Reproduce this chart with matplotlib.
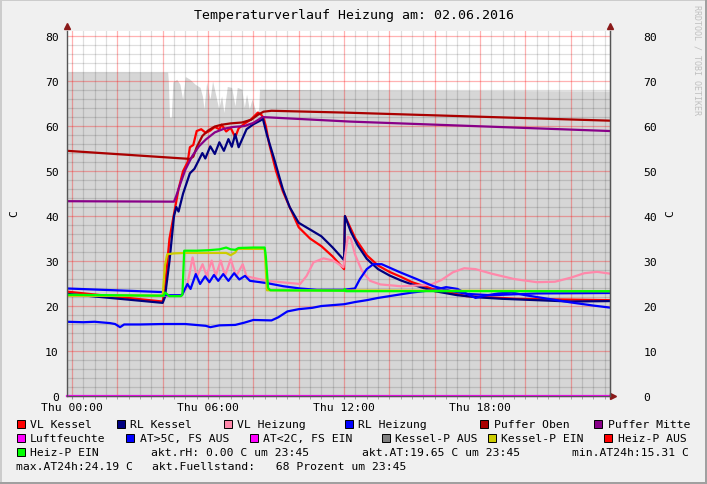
import matplotlib.pyplot as plt
from matplotlib.patches import Rectangle

plt.rcParams['font.family'] = 'DejaVu Sans Mono'

# Zeitachse in Stunden ab Thu 00:00 (02.06.2016)
fuell_t = [-0.22, 4.22, 4.25, 4.3, 4.38, 4.45, 4.62, 4.76, 4.88, 5.0, 5.2, 5.43, 5.65, 5.76,
           5.82, 5.94, 6.09, 6.2, 6.35, 6.47, 6.6, 6.7, 6.85, 7.04, 7.19, 7.29, 7.49, 7.6,
           7.7, 7.82, 7.94, 8.07, 8.17, 8.24, 8.27, 12.0, 23.73]
fuell_v = [72.0, 72.0, 70.0, 62.0, 62.0, 69.8, 70.4, 69.3, 66.0, 71.0, 70.4, 69.3, 68.6, 66.5,
           63.8, 69.8, 66.0, 70.0, 66.7, 63.8, 66.7, 63.0, 68.8, 68.6, 64.5, 68.6, 68.2, 64.2,
           67.1, 63.8, 66.0, 63.8, 62.7, 64.0, 68.2, 68.0, 67.8]

vlk_t = [-0.22, 4.0, 4.1, 4.3, 4.5, 4.7, 4.9, 5.1, 5.2, 5.35, 5.5, 5.7, 5.9, 6.1, 6.3, 6.5,
         6.6, 6.8, 7.0, 7.2, 7.35, 7.6, 7.9, 8.2, 8.35, 8.45, 8.55, 8.7, 9.0, 9.3, 9.6, 10.0,
         10.5, 11.0, 11.5, 12.0, 12.04, 12.5, 13.0, 13.5, 14.0, 14.5, 15.0, 15.9, 17.4, 18.9,
         19.6, 23.73]
vlk_v = [23.2, 21.0, 24.0, 35.0, 40.5, 46.0, 50.0, 52.0, 55.3, 55.8, 58.9, 59.3, 58.5, 59.0,
         59.8, 59.3, 60.3, 58.8, 59.6, 57.5, 59.5, 60.5, 61.5, 63.0, 62.5, 61.8, 60.0, 56.0,
         50.0, 45.5, 42.0, 37.5, 35.0, 33.3, 31.0, 28.2, 40.0, 35.0, 31.3, 29.0, 27.6, 26.5,
         25.3, 23.8, 22.2, 21.8, 21.6, 21.3]

rlk_t = [-0.22, 4.0, 4.1, 4.3, 4.5, 4.6, 4.7, 4.9, 5.2, 5.4, 5.6, 5.75, 5.88, 6.1, 6.3, 6.5,
         6.7, 6.9, 7.05, 7.2, 7.35, 7.7, 8.0, 8.3, 8.42, 8.6, 8.9, 9.3, 9.6, 10.0, 10.5, 11.0,
         11.5, 12.0, 12.04, 12.3, 12.6, 13.0, 13.5, 14.0, 14.5, 15.0, 15.5, 16.0, 17.0, 18.0,
         19.0, 20.0, 21.0, 22.0, 23.73]
rlk_v = [22.7, 20.7, 22.0, 30.0, 40.0, 42.0, 41.0, 45.0, 49.5, 50.5, 52.5, 54.0, 52.8, 55.5,
         53.8, 56.4, 54.5, 57.1, 55.4, 58.2, 55.3, 59.3, 60.4, 61.2, 61.6, 58.0, 53.0, 46.0,
         42.0, 38.5, 37.0, 35.5, 33.0, 30.2, 40.0, 36.5, 33.5, 30.5, 28.2, 26.8, 25.7, 24.8,
         24.0, 23.3, 22.4, 21.9, 21.6, 21.4, 21.2, 21.0, 21.1]

vlh_t = [-0.22, 4.8, 5.06, 5.32, 5.5, 5.76, 5.94, 6.16, 6.34, 6.56, 6.75, 7.0, 7.24, 7.53,
         7.7, 8.59, 10.06, 10.35, 10.65, 11.09, 11.53, 11.97, 12.1, 12.17, 12.3, 12.48, 12.79,
         13.15, 13.6, 14.5, 15.8, 16.3, 16.8, 17.3, 17.8, 18.5, 19.5, 20.5, 21.3, 22.0, 22.6,
         23.16, 23.73]
vlh_v = [22.3, 22.3, 24.0, 30.8, 26.4, 29.3, 26.7, 30.1, 26.7, 30.1, 26.7, 30.4, 26.6, 29.3,
         26.6, 25.6, 24.9, 26.7, 29.7, 30.6, 30.1, 28.6, 33.0, 35.4, 35.0, 31.5, 27.8, 25.6,
         24.8, 24.4, 24.7, 25.8, 27.5, 28.4, 28.2, 27.2, 26.0, 25.3, 25.4, 26.3, 27.3, 27.6,
         27.2]

rlh_t = [-0.22, 4.0, 4.1, 4.85, 5.09, 5.23, 5.46, 5.65, 5.87, 6.06, 6.26, 6.45, 6.67, 6.9,
         7.15, 7.38, 7.63, 7.85, 8.59, 9.32, 10.06, 10.8, 11.95, 12.48, 12.7, 13.0, 13.29,
         13.66, 14.47, 15.2, 15.94, 16.67, 17.41, 18.5, 19.5, 20.5, 23.73]
rlh_v = [23.9, 23.1, 22.4, 22.4, 24.9, 23.8, 27.1, 24.9, 26.6, 25.3, 26.9, 25.6, 27.1, 25.6,
         27.3, 25.9, 26.7, 25.6, 25.1, 24.4, 23.9, 23.6, 23.6, 23.9, 26.0, 28.2, 29.3, 29.3,
         27.5, 26.0, 24.4, 23.4, 22.7, 22.4, 22.6, 22.8, 22.9]

pob_t = [-0.22, 5.2, 5.35, 5.5, 5.75, 6.0, 6.3, 6.6, 7.0, 7.5, 7.9, 8.2, 8.45, 8.8, 12.0, 23.73]
pob_v = [54.5, 52.7, 53.2, 55.3, 57.8, 59.0, 59.9, 60.3, 60.6, 60.8, 61.4, 62.5, 63.2, 63.4,
         63.0, 61.2]

pmi_t = [-0.22, 4.5, 4.6, 4.8, 5.0, 5.3, 5.6, 5.9, 6.3, 6.7, 7.1, 7.6, 8.0, 8.4, 12.26, 23.73]
pmi_v = [43.3, 43.2, 44.5, 47.5, 50.3, 53.3, 55.5, 57.0, 58.6, 59.4, 59.8, 60.0, 60.7, 62.0,
         61.0, 58.9]

luft_t = [-0.22, 23.73]
luft_v = [0.0, 0.0]

at_t = [-0.22, 0.5, 1.0, 1.68, 1.9, 2.12, 2.3, 3.0, 4.0, 5.0, 5.9, 6.1, 6.5, 7.2, 7.6, 8.0,
        8.8, 9.1, 9.5, 10.0, 10.6, 11.0, 11.5, 12.0, 12.5, 13.0, 13.5, 14.0, 14.5, 15.0,
        15.5, 16.0, 16.5, 17.0, 17.5, 17.8, 18.2, 18.8, 19.4, 20.0, 21.0, 22.0, 23.0, 23.73]
at_v = [16.5, 16.4, 16.5, 16.2, 16.0, 15.3, 15.9, 15.9, 16.0, 16.0, 15.6, 15.3, 15.7, 15.8,
        16.3, 16.9, 16.8, 17.5, 18.8, 19.3, 19.6, 20.0, 20.2, 20.4, 20.9, 21.3, 21.8, 22.2,
        22.6, 23.0, 23.3, 23.6, 24.2, 23.8, 22.5, 21.8, 22.3, 22.8, 23.0, 22.4, 21.6, 20.8,
        20.1, 19.65]

kpe_t = [-0.22, 4.0, 4.1, 4.2, 4.5, 5.0, 6.0, 6.8, 7.0, 7.2, 7.3, 8.5, 8.6, 23.73]
kpe_v = [22.3, 22.3, 29.0, 31.5, 31.7, 31.8, 31.8, 31.8, 31.3, 31.9, 32.7, 32.7, 23.5, 23.3]

hpe_t = [-0.22, 4.0, 4.05, 4.1, 4.2, 4.3, 4.8, 4.87, 4.95, 5.5, 6.0, 6.5, 6.8, 7.0, 7.2,
         7.35, 8.0, 8.5, 8.55, 8.65, 8.75, 12.0, 12.03, 12.08, 23.73]
hpe_v = [22.5, 22.3, 22.3, 23.0, 22.6, 22.2, 22.2, 22.5, 32.3, 32.3, 32.4, 32.6, 33.0, 32.6,
         32.5, 32.9, 33.0, 33.0, 31.0, 24.0, 23.5, 23.4, 23.8, 23.3, 23.3]

x_labels = ['Thu 00:00', 'Thu 06:00', 'Thu 12:00', 'Thu 18:00']
x_label_pos = [0, 6, 12, 18]

W, H = 707, 485
fig = plt.figure(figsize=(W / 100, H / 100), dpi=100, facecolor='#f0f0f0')

ax = fig.add_axes([67 / W, 1 - 397 / H, (610 - 67) / W, (397 - 31.7) / H])
ax.set_facecolor('white')
ax.set_xlim(-0.22, 23.73)
ax.set_ylim(0, 81.2)

# Fuellstand als Flaeche
ax.fill_between(fuell_t, 0, fuell_v, color='#d6d6d6', lw=0, zorder=0.2)

# Raster
for i in range(-1, 48):
    x = i * 0.5
    if x < -0.22 or x > 23.73:
        continue
    if i % 4 == 0:
        ax.axvline(x, color='#ff0000', alpha=0.3, lw=0.9, zorder=1)
    else:
        ax.axvline(x, color='#000000', alpha=0.13, lw=0.9, zorder=1)
for j in range(0, 41):
    y = j * 2
    if j % 5 == 0:
        ax.axhline(y, color='#ff0000', alpha=0.3, lw=0.9, zorder=1)
    else:
        ax.axhline(y, color='#000000', alpha=0.13, lw=0.9, zorder=1)

lw = 1.6
ax.plot(vlk_t, vlk_v, color='#ff0000', lw=lw, zorder=2)
ax.plot(rlk_t, rlk_v, color='#000080', lw=lw, zorder=2)
ax.plot(vlh_t, vlh_v, color='#ff88aa', lw=lw, zorder=2)
ax.plot(rlh_t, rlh_v, color='#0000ff', lw=lw, zorder=2)
ax.plot(pob_t, pob_v, color='#aa0000', lw=lw, zorder=2)
ax.plot(pmi_t, pmi_v, color='#880088', lw=lw, zorder=2)
ax.plot(luft_t, luft_v, color='#ff00ff', lw=lw, zorder=2, clip_on=False)
ax.plot(at_t, at_v, color='#0000ff', lw=lw, zorder=2)
ax.plot(kpe_t, kpe_v, color='#cccc00', lw=lw, zorder=2)
ax.plot(hpe_t, hpe_v, color='#00ff00', lw=lw, zorder=2)

for s in ['top']:
    ax.spines[s].set_visible(False)
for s in ['left', 'right', 'bottom']:
    ax.spines[s].set_color('#555555')
    ax.spines[s].set_linewidth(1.0)
    ax.spines[s].set_zorder(3)

ax.set_xticks(x_label_pos)
ax.set_xticklabels(x_labels)
ax.set_xticks([i * 0.5 for i in range(0, 48)], minor=True)
ax.tick_params(axis='x', which='both', length=2, color='#999999', labelsize=8.2, pad=2)
ax.set_yticks(range(0, 81, 10))
ax.tick_params(axis='y', length=0, labelsize=8.2, pad=6)

ax2 = ax.twinx()
ax2.set_ylim(0, 81.2)
ax2.set_yticks(range(0, 81, 10))
ax2.tick_params(axis='y', length=0, labelsize=8.2, pad=24)
for s in ['top', 'left', 'bottom']:
    ax2.spines[s].set_visible(False)
ax2.spines['right'].set_color('#555555')

# Pfeile an den Achsen
ax.plot([0], [1.012], marker='^', color='#8b1a1a', ms=4, transform=ax.transAxes, clip_on=False)
ax.plot([1], [1.012], marker='^', color='#8b1a1a', ms=4, transform=ax.transAxes, clip_on=False)
ax.plot([1.006], [0], marker='>', color='#8b1a1a', ms=4, transform=ax.transAxes, clip_on=False)

# Overlay in Pixelkoordinaten
ov = fig.add_axes([0, 0, 1, 1], facecolor='none')
ov.set_xlim(0, W)
ov.set_ylim(H, 0)
ov.axis('off')

ov.add_patch(Rectangle((0, 0), W, 1.5, color='#cccccc', lw=0))
ov.add_patch(Rectangle((0, 0), 1.5, H, color='#cccccc', lw=0))
ov.add_patch(Rectangle((W - 2.5, 0), 2.5, H, color='#a0a0a0', lw=0))
ov.add_patch(Rectangle((0, H - 2.5), W, 2.5, color='#a0a0a0', lw=0))

ov.text(354, 16, 'Temperaturverlauf Heizung am: 02.06.2016', ha='center', va='center', fontsize=9.5)
ov.text(14, 214, 'C', rotation=90, ha='center', va='center', fontsize=8.2)
ov.text(670, 214, 'C', rotation=90, ha='center', va='center', fontsize=8.2)
ov.text(697, 5, 'RRDTOOL / TOBI OETIKER', rotation=270, ha='center', va='top', fontsize=6, color='#c0c0c0')

legend = [
    ('VL Kessel', '#ff0000', 16.5, 425), ('RL Kessel', '#000080', 116.5, 425),
    ('VL Heizung', '#ff88aa', 223.5, 425), ('RL Heizung', '#0000ff', 345, 425),
    ('Puffer Oben', '#aa0000', 480, 425), ('Puffer Mitte', '#880088', 594, 425),
    ('Luftfeuchte', '#ff00ff', 16.5, 439), ('AT>5C, FS AUS', '#0000ff', 126, 439),
    ('AT<2C, FS EIN', '#ff00ff', 249.5, 439), ('Kessel-P AUS', '#808080', 381.5, 439),
    ('Kessel-P EIN', '#cccc00', 487.5, 439), ('Heiz-P AUS', '#ff0000', 604, 439),
    ('Heiz-P EIN', '#00ff00', 16.5, 453),
]
for lab, col, x, y in legend:
    ov.add_patch(Rectangle((x, y - 4), 8, 8, facecolor=col, edgecolor='black', lw=0.7))
    ov.text(x + 13.5, y, lab, ha='left', va='center', fontsize=8.2)

ov.text(151, 453, 'akt.rH: 0.00 C um 23:45', ha='left', va='center', fontsize=8.2)
ov.text(361.5, 453, 'akt.AT:19.65 C um 23:45', ha='left', va='center', fontsize=8.2)
ov.text(571.5, 453, 'min.AT24h:15.31 C', ha='left', va='center', fontsize=8.2)
ov.text(16.5, 467, 'max.AT24h:24.19 C', ha='left', va='center', fontsize=8.2)
ov.text(151.5, 467, 'akt.Fuellstand:   68 Prozent um 23:45', ha='left', va='center', fontsize=8.2)

fig.savefig('out.png', dpi=100, facecolor=fig.get_facecolor())
